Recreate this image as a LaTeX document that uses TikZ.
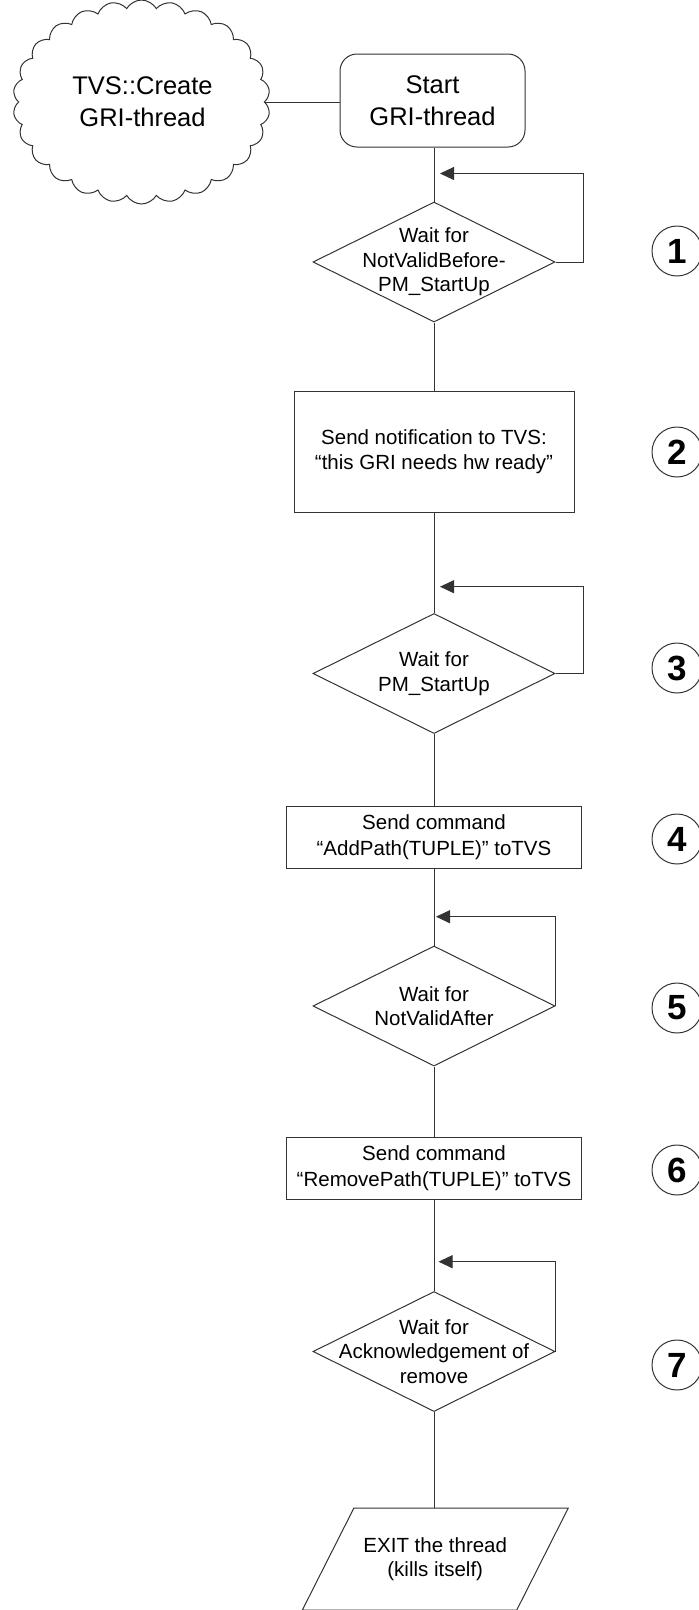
\documentclass[tikz,border=0pt]{standalone}
\usepackage{fontspec}
\setmainfont{Liberation Sans}
\usetikzlibrary{shapes.geometric,shapes.symbols,arrows.meta,calc}

\begin{document}
\begin{tikzpicture}[x=1pt,y=-1pt,
  line/.style={draw=black!80,line width=1pt},
  txt/.style={font=\fontsize{20.5}{24.5}\selectfont,align=center,inner sep=0pt},
  bigtxt/.style={font=\fontsize{25.5}{32}\selectfont,align=center,inner sep=0pt},
  procbox/.style={line,rectangle,inner sep=0pt,align=center,
    font=\fontsize{20.5}{25.5}\selectfont},
  decision/.style={line,diamond,inner sep=0pt,minimum width=242pt,minimum height=120pt},
  startbox/.style={line,rectangle,rounded corners=17pt,minimum width=185pt,
    minimum height=93pt,inner sep=0pt,align=center,font=\fontsize{25.5}{32}\selectfont},
  stepmark/.style={line,circle,minimum size=50pt,inner sep=0pt,
    font=\fontsize{35}{40}\selectfont\bfseries},
  loopline/.style={line,-{Triangle[length=14pt,width=13pt]}},
]
\useasboundingbox (0,0) rectangle (699,1610);

% thread creation and start
\node[line,cloud,cloud puffs=26,cloud puff arc=120,
      minimum width=257pt,minimum height=204pt,inner sep=0pt] (cloud) at (141.5,102) {};
\node[bigtxt] (cloudtxt) at (142.5,101.5) {TVS::Create\\GRI-thread};
\node[startbox] (start) at (432.5,100.5) {Start\\GRI-thread};

% flow steps
\node[decision] (d1) at (434,262) {};
\node[txt] (d1t) at (d1) {Wait for\\NotValidBefore-\\PM\_StartUp};

\node[procbox,minimum width=280pt,minimum height=121pt] (b2) at (434,451.5)
  {Send notification to TVS:\\“this GRI needs hw ready”};

\node[decision] (d3) at (434,673.5) {};
\node[txt] (d3t) at (d3) {Wait for\\PM\_StartUp};

\node[procbox,minimum width=295pt,minimum height=62pt] (b4) at (434,837)
  {Send command\\“AddPath(TUPLE)” toTVS};

\node[decision] (d5) at (434,1006) {};
\node[txt] (d5t) at (d5) {Wait for\\NotValidAfter};

\node[procbox,minimum width=295pt,minimum height=62pt] (b6) at (434,1168)
  {Send command\\“RemovePath(TUPLE)” toTVS};

\node[decision] (d7) at (434,1351.5) {};
\node[txt] (d7t) at (d7) {Wait for\\Acknowledgement of\\remove};

% exit parallelogram built on a text node
\node[txt,minimum width=214pt,minimum height=101.7pt] (exit) at (435.25,1559.15)
  {EXIT the thread\\(kills itself)};
\draw[line] ($(exit.north west)+(25.8,0)$) -- ($(exit.north east)+(25.8,0)$)
  -- ($(exit.south east)+(-25.8,0)$) -- ($(exit.south west)+(-25.8,0)$) -- cycle;

% step markers
\foreach \n/\yy in {1/251,2/452,3/668,4/839,5/1008,6/1170,7/1365}
  \node[stepmark] (m\n) at (677,\yy) {\n};

% main flow connectors
\draw[line] (cloud.east) -- (cloud.east -| start.west);
\draw[line] (start.south -| d1.north) -- (d1.north);
\draw[line] (d1.south) -- (b2.north);
\draw[line] (b2.south) -- (d3.north);
\draw[line] (d3.south) -- (b4.north);
\draw[line] (b4.south) -- (d5.north);
\draw[line] (d5.south) -- (b6.north);
\draw[line] (b6.south) -- (d7.north);
\draw[line] (d7.south) -- (d7.south |- exit.north);

% waiting loops
\coordinate (t1) at (440,173.5);
\coordinate (t3) at (440,586.7);
\coordinate (t5) at (436,916.7);
\coordinate (t7) at (438.5,1261.7);
\draw[loopline] (d1.east) -- ++(28.3,0) |- (t1);
\draw[loopline] (d3.east) -- ++(28.3,0) |- (t3);
\draw[loopline] (d5.east) |- (t5);
\draw[loopline] (d7.east) |- (t7);
\end{tikzpicture}
\end{document}
